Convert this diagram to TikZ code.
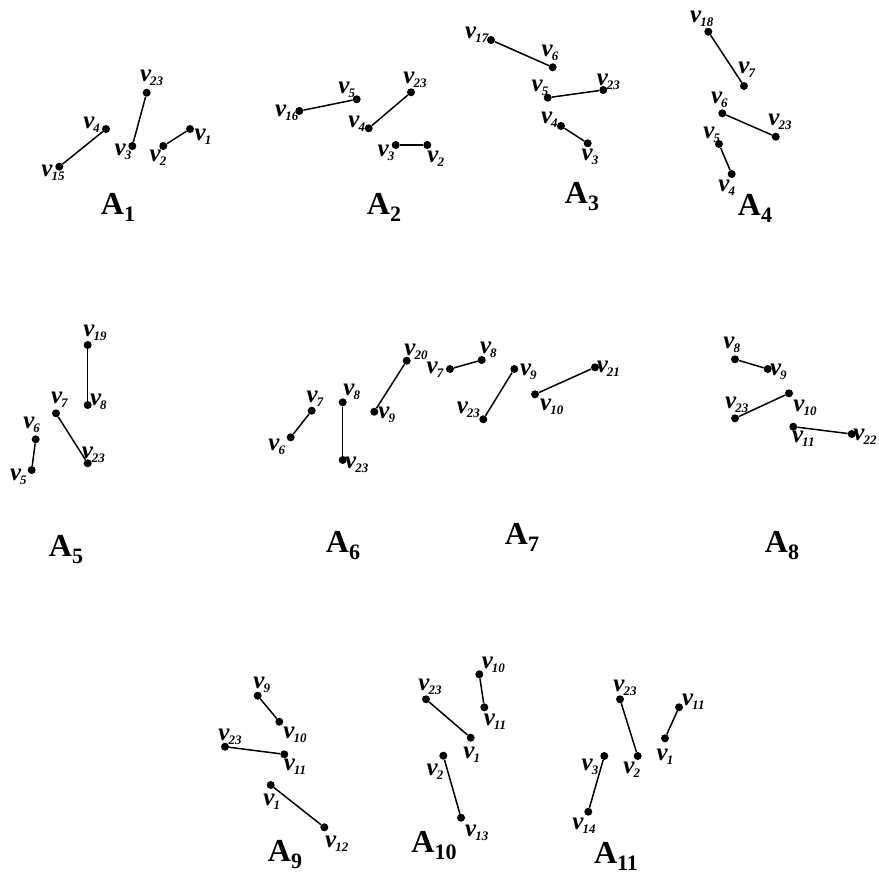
\documentclass[tikz,border=0pt]{standalone}
\usepackage{fontspec}
\setmainfont{Liberation Serif}
\newcommand\vsub[1]{{\fontsize{25}{25}\selectfont\bfseries\itshape v}\kern-1pt\raisebox{-4pt}{\fontsize{13}{13}\selectfont\bfseries\itshape #1}}
\newcommand\asub[1]{{\fontsize{32}{32}\selectfont\bfseries A}\raisebox{-7pt}{\fontsize{22}{22}\selectfont\bfseries #1}}
\newcommand\vx[6]{\node[dot] (#1) at (#2,#3) {}; \node[vlab] (#1l) at (#4,#5) {\vsub{#6}};}
\tikzset{
  dot/.style={circle,fill=black,inner sep=0pt,minimum size=8pt},
  vlab/.style={inner sep=0pt},
  alab/.style={inner sep=0pt},
  edge/.style={line width=1.5pt,black}
}
\begin{document}
\begin{tikzpicture}[x=1pt,y=-1pt]
\useasboundingbox (0,0) rectangle (878,891);
% A1
\vx{a1v23}{146.7}{92.7}{151.7}{78.3}{23}
\vx{a1v3}{132.3}{146}{123}{152}{3}
\vx{a1v4}{106}{129}{91.7}{125}{4}
\vx{a1v15}{59.3}{166.7}{53}{173}{15}
\vx{a1v2}{163.3}{146}{158}{158}{2}
\vx{a1v1}{190}{129}{203}{137}{1}
\draw[edge] (a1v15) -- (a1v4);
\draw[edge] (a1v3) -- (a1v23);
\draw[edge] (a1v2) -- (a1v1);
\node[alab] (A1) at (118,207) {\asub{1}};
% A2
\vx{a2v5}{356.7}{99.3}{346.7}{90}{5}
\vx{a2v16}{299.3}{111}{286.7}{113.3}{16}
\vx{a2v23}{411}{92.3}{415}{80}{23}
\vx{a2v4}{368.7}{128.3}{356.7}{123.3}{4}
\vx{a2v3}{395.7}{145}{386}{153.3}{3}
\vx{a2v2}{427.3}{145}{435.7}{158.3}{2}
\draw[edge] (a2v16) -- (a2v5);
\draw[edge] (a2v4) -- (a2v23);
\draw[edge] (a2v3) -- (a2v2);
\node[alab] (A2) at (384,207) {\asub{2}};
% A3
\vx{a3v17}{491}{40}{476.7}{35}{17}
\vx{a3v6}{552.7}{67.3}{550}{53.3}{6}
\vx{a3v5}{547.7}{97.7}{540}{88.3}{5}
\vx{a3v23}{603.3}{90}{608.3}{81.7}{23}
\vx{a3v4}{561}{126}{549.3}{120}{4}
\vx{a3v3}{587.7}{143.3}{590}{156.7}{3}
\draw[edge] (a3v17) -- (a3v6);
\draw[edge] (a3v5) -- (a3v23);
\draw[edge] (a3v4) -- (a3v3);
\node[alab] (A3) at (582,197) {\asub{3}};
% A4
\vx{a4v18}{708.3}{31.7}{701.7}{19}{18}
\vx{a4v7}{744}{86}{746.7}{70}{7}
\vx{a4v6}{722.3}{113.3}{719.3}{100}{6}
\vx{a4v23}{775.7}{136.7}{780}{121.7}{23}
\vx{a4v5}{719}{144}{711.7}{135}{5}
\vx{a4v4}{731.7}{174}{726.7}{188}{4}
\draw[edge] (a4v18) -- (a4v7);
\draw[edge] (a4v6) -- (a4v23);
\draw[edge] (a4v5) -- (a4v4);
\node[alab] (A4) at (755,208) {\asub{4}};
% A5
\vx{a5v19}{87.7}{345}{95}{333}{19}
\vx{a5v8}{87.7}{405}{98.3}{401.7}{8}
\vx{a5v7}{56}{413.3}{59.3}{400}{7}
\vx{a5v23}{87.7}{463.3}{93.3}{455}{23}
\vx{a5v6}{35.7}{439.3}{31.7}{425}{6}
\vx{a5v5}{31.7}{470}{18.3}{476.7}{5}
\draw[edge] (a5v19) -- (a5v8);
\draw[edge] (a5v7) -- (a5v23);
\draw[edge] (a5v6) -- (a5v5);
\node[alab] (A5) at (66,550) {\asub{5}};
% A6
\vx{a6v7}{311.7}{410.7}{315}{398.3}{7}
\vx{a6v6}{290.7}{437.3}{276.7}{446.7}{6}
\vx{a6v8}{342.7}{402.3}{351.7}{391.7}{8}
\vx{a6v23}{342.7}{460}{356.7}{465}{23}
\vx{a6v9}{374.3}{411.7}{386.7}{415}{9}
\vx{a6v20}{406.7}{360.7}{416}{352}{20}
\draw[edge] (a6v6) -- (a6v7);
\draw[edge] (a6v8) -- (a6v23);
\draw[edge] (a6v9) -- (a6v20);
\node[alab] (A6) at (343,546) {\asub{6}};
% A7
\vx{a7v7}{450}{369}{435}{370}{7}
\vx{a7v8}{481.7}{360}{488.3}{350}{8}
\vx{a7v9}{514.3}{369}{528.3}{371.7}{9}
\vx{a7v23}{483.3}{419.3}{468.3}{410}{23}
\vx{a7v10}{535}{394.3}{551.7}{406.7}{10}
\vx{a7v21}{595}{367.3}{608.3}{368.3}{21}
\draw[edge] (a7v7) -- (a7v8);
\draw[edge] (a7v9) -- (a7v23);
\draw[edge] (a7v10) -- (a7v21);
\node[alab] (A7) at (522,537) {\asub{7}};
% A8
\vx{a8v8}{735}{359.3}{731.7}{345}{8}
\vx{a8v9}{767.7}{369}{778.3}{371.7}{9}
\vx{a8v23}{735}{418.3}{736.7}{405}{23}
\vx{a8v10}{789}{393.3}{805}{408.3}{10}
\vx{a8v11}{793.3}{426.7}{803.3}{438.3}{11}
\vx{a8v22}{851.7}{434}{865}{436.7}{22}
\draw[edge] (a8v8) -- (a8v9);
\draw[edge] (a8v23) -- (a8v10);
\draw[edge] (a8v11) -- (a8v22);
\node[alab] (A8) at (782,546) {\asub{8}};
% A9
\vx{a9v9}{257.7}{695.7}{261.7}{685}{9}
\vx{a9v10}{279.3}{721.7}{295}{735}{10}
\vx{a9v23}{225}{746.7}{230}{736.7}{23}
\vx{a9v11}{284.3}{754.3}{295}{766.7}{11}
\vx{a9v1}{270.7}{785}{271.7}{801.7}{1}
\vx{a9v12}{324.3}{827.3}{336.7}{843.3}{12}
\draw[edge] (a9v9) -- (a9v10);
\draw[edge] (a9v23) -- (a9v11);
\draw[edge] (a9v1) -- (a9v12);
\node[alab] (A9) at (285,855) {\asub{9}};
% A10
\vx{a10v10}{479.3}{674.3}{493.3}{665}{10}
\vx{a10v11}{484.3}{707.3}{495}{721.7}{11}
\vx{a10v23}{426}{699.3}{430}{686.7}{23}
\vx{a10v1}{470.7}{737.7}{471.7}{755}{1}
\vx{a10v2}{443.3}{755.7}{435}{771.7}{2}
\vx{a10v13}{461}{817.7}{476.7}{833.3}{13}
\draw[edge] (a10v10) -- (a10v11);
\draw[edge] (a10v23) -- (a10v1);
\draw[edge] (a10v2) -- (a10v13);
\node[alab] (A10) at (434,846) {\asub{10}};
% A11
\vx{a11v23}{620}{699.3}{625}{688.3}{23}
\vx{a11v2}{637.7}{756}{631.7}{770}{2}
\vx{a11v11}{679}{707.3}{693.3}{701.7}{11}
\vx{a11v1}{665}{738.3}{665}{756.7}{1}
\vx{a11v3}{604.3}{756}{590}{766.7}{3}
\vx{a11v14}{588.3}{811.7}{584}{826}{14}
\draw[edge] (a11v23) -- (a11v2);
\draw[edge] (a11v1) -- (a11v11);
\draw[edge] (a11v3) -- (a11v14);
\node[alab] (A11) at (616,856) {\asub{11}};
\end{tikzpicture}
\end{document}
